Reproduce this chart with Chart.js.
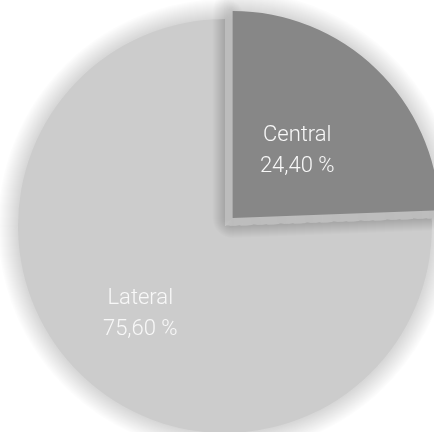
<!DOCTYPE html>
<html>
<head>
<meta charset="utf-8">
<script src="https://cdn.jsdelivr.net/npm/chart.js@4/dist/chart.umd.min.js"></script>
<style>
  html, body { margin: 0; padding: 0; background: #ffffff; overflow: hidden; }
  #wrap { width: 434px; height: 432px; position: relative; }
</style>
</head>
<body>
<div id="wrap"><canvas id="c" width="434" height="432"></canvas></div>
<script>
const categories = ['Lateral', 'Central'];
const shares = [75.60, 24.40];
const valueLabels = ['75,60 %', '24,40 %'];
const sliceColors = ['#cccccc', '#878787'];
const sliceOffsets = [0, 44];

// centre of an arc after Chart.js applies its offset translation
function arcCentre(p, offsetOpt) {
  const half = (p.startAngle + p.endAngle) / 2;
  const circ = p.endAngle - p.startAngle;
  const base = (offsetOpt || 0) / 4;
  const fix = 1 - Math.sin(Math.min(Math.PI, circ || 0));
  const shift = base + base * fix;
  return { x: p.x + Math.cos(half) * shift, y: p.y + Math.sin(half) * shift, half };
}

const shadowPlugin = {
  id: 'pieShadow',
  beforeDatasetsDraw(chart, args, opts) {
    const meta = chart.getDatasetMeta(0);
    meta.data.forEach((arc) => {
      if (arc._shadowWrapped) return;
      arc._shadowWrapped = true;
      const baseDraw = arc.draw;
      arc.draw = function (ctx, area) {
        const p = this.getProps(['x', 'y', 'startAngle', 'endAngle', 'outerRadius'], true);
        const c = arcCentre(p, this.options.offset);
        ctx.save();
        ctx.beginPath();
        ctx.moveTo(c.x, c.y);
        ctx.arc(c.x, c.y, p.outerRadius, p.startAngle, p.endAngle);
        ctx.closePath();
        ctx.lineJoin = 'round';
        ctx.strokeStyle = opts.color;
        for (let w = opts.spread * 2; w >= 2; w -= 2) {
          ctx.lineWidth = w;
          ctx.stroke();
        }
        ctx.restore();
        return baseDraw.call(this, ctx, area);
      };
    });
  }
};

const labelPlugin = {
  id: 'sliceLabels',
  afterDraw(chart, args, opts) {
    const ctx = chart.ctx;
    const meta = chart.getDatasetMeta(0);
    ctx.save();
    ctx.fillStyle = opts.color;
    ctx.font = opts.font;
    ctx.textAlign = 'center';
    ctx.textBaseline = 'middle';
    meta.data.forEach((arc, i) => {
      const p = arc.getProps(['x', 'y', 'startAngle', 'endAngle', 'outerRadius'], true);
      const c = arcCentre(p, arc.options.offset);
      const r = p.outerRadius * opts.radial[i];
      const x = c.x + Math.cos(c.half) * r;
      const y = c.y + Math.sin(c.half) * r;
      ctx.fillText(categories[i], x, y - opts.lineGap / 2);
      ctx.fillText(valueLabels[i], x, y + opts.lineGap / 2);
    });
    ctx.restore();
  }
};

new Chart(document.getElementById('c'), {
  type: 'pie',
  data: {
    labels: categories,
    datasets: [{
      data: shares,
      backgroundColor: sliceColors,
      borderWidth: 0,
      offset: sliceOffsets,
      hoverOffset: 0,
      clip: false
    }]
  },
  options: {
    responsive: false,
    animation: false,
    rotation: 87.84,
    radius: 207,
    layout: { padding: { left: 16, right: 0, top: 20, bottom: 0 } },
    plugins: {
      legend: { display: false },
      tooltip: { enabled: false },
      pieShadow: { color: 'rgba(0,0,0,0.012)', spread: 20 },
      sliceLabels: {
        color: '#f8f8f8',
        font: '300 22px Roboto',
        lineGap: 31,
        radial: [0.59, 0.45]
      }
    }
  },
  plugins: [shadowPlugin, labelPlugin]
});
</script>
</body>
</html>
